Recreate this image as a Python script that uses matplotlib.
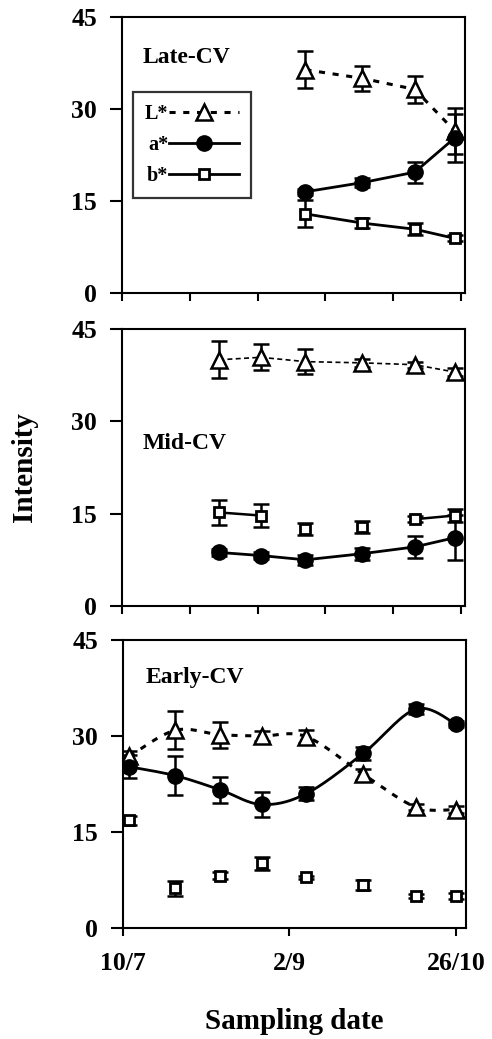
import numpy as np
import matplotlib
matplotlib.use("Agg")
import matplotlib.pyplot as plt
from matplotlib.lines import Line2D

plt.rcParams['font.family'] = ['Liberation Serif', 'DejaVu Serif']
plt.rcParams['font.weight'] = 'bold'

# Sampling dates as days after 10/7
dates = [2, 17, 31.5, 45, 59.5, 78, 95, 108]

# Late-CV (last 4 dates)
late_x = dates[4:]
late_L = [36.4, 35.0, 33.2, 26.4]
late_L_err = [3.0, 2.0, 2.2, 3.8]
late_a = [16.5, 18.0, 19.7, 25.3]
late_a_err = [0.5, 0.7, 1.7, 3.9]
late_b = [12.9, 11.4, 10.4, 8.9]
late_b_err = [2.2, 0.8, 1.0, 0.5]

# Mid-CV (last 6 dates)
mid_x = dates[2:]
mid_L = [40.0, 40.4, 39.7, 39.5, 39.2, 38.0]
mid_L_err = [3.0, 2.1, 2.0, 0.7, 0.5, 0.7]
mid_a = [8.7, 8.2, 7.5, 8.5, 9.6, 11.1]
mid_a_err = [0.5, 0.5, 0.8, 1.0, 1.8, 3.7]
mid_b = [15.2, 14.7, 12.5, 12.8, 14.1, 14.7]
mid_b_err = [2.1, 1.8, 1.0, 1.0, 0.5, 1.0]

# Early-CV (all dates)
early_x = dates
early_L = [26.8, 30.9, 30.2, 30.0, 29.9, 24.0, 18.9, 18.5]
early_L_err = [0.8, 3.0, 2.0, 0.8, 1.0, 0.8, 0.5, 0.5]
early_a = [25.2, 23.8, 21.6, 19.3, 21.0, 27.3, 34.2, 31.9]
early_a_err = [1.8, 3.0, 2.0, 2.0, 1.0, 1.0, 0.8, 0.5]
early_b = [16.8, 6.2, 8.2, 10.1, 7.9, 6.7, 5.0, 5.0]
early_b_err = [0.7, 1.2, 0.5, 1.0, 0.3, 0.8, 0.3, 0.5]

yticks = [0, 15, 30, 45]
bottom_xticks = [0, 54, 108]
bottom_xticklabels = ['10/7', '2/9', '26/10']
top_xticks = [0, 22, 44, 66, 88, 110]


def smooth(x, y, n=40):
    pts = np.column_stack([x, y]).astype(float)
    p = np.vstack([pts[0], pts, pts[-1]])
    out = []
    t = np.linspace(0, 1, n)[:, None]
    for i in range(1, len(p) - 2):
        p0, p1, p2, p3 = p[i - 1], p[i], p[i + 1], p[i + 2]
        seg = 0.5 * ((2 * p1) + (-p0 + p2) * t + (2 * p0 - 5 * p1 + 4 * p2 - p3) * t ** 2
                     + (-p0 + 3 * p1 - 3 * p2 + p3) * t ** 3)
        out.append(seg)
    s = np.vstack(out)
    return s[:, 0], s[:, 1]


W, H = 492, 1039
fig = plt.figure(figsize=(W / 100, H / 100), dpi=100)


def add_ax(left, right, top, bottom):
    return fig.add_axes([left / W, 1 - bottom / H, (right - left) / W, (bottom - top) / H])


ax1 = add_ax(122, 465, 17, 293)
ax2 = add_ax(122, 465, 329, 606)
ax3 = add_ax(123, 466, 640, 928)

ebkw = dict(ecolor='black', elinewidth=1.8, capsize=6, capthick=1.8, linestyle='none', zorder=2)
Lkw = dict(marker='^', markersize=11, markerfacecolor='white', markeredgecolor='black', markeredgewidth=1.8)
akw = dict(marker='o', markersize=11, markerfacecolor='black', markeredgecolor='black')
bkw = dict(marker='s', markersize=6.5, markerfacecolor='white', markeredgecolor='black', markeredgewidth=2)

for ax in (ax1, ax2, ax3):
    ax.set_xlim(0, 111.3)
    ax.set_ylim(0, 45)
    ax.set_yticks(yticks)
    for s in ax.spines.values():
        s.set_linewidth(1.5)
    ax.tick_params(axis='y', direction='out', length=9, width=1.5, labelsize=18.5, pad=9)
    ax.tick_params(axis='x', direction='out', length=6, width=1.5, labelsize=18.5, pad=11)
    for lbl in ax.get_yticklabels():
        lbl.set_fontweight('bold')

# Late-CV
ax = ax1
ax.errorbar(late_x, late_L, yerr=late_L_err, **ebkw)
ax.errorbar(late_x, late_a, yerr=late_a_err, **ebkw)
ax.errorbar(late_x, late_b, yerr=late_b_err, **ebkw)
ax.plot(late_x, late_L, color='black', linestyle=(0, (2, 2.5)), linewidth=2.2, zorder=3, **Lkw)
ax.plot(late_x, late_a, color='black', linestyle='-', linewidth=2, zorder=3, **akw)
ax.plot(late_x, late_b, color='black', linestyle='-', linewidth=2, zorder=3, **bkw)
ax.set_xticks(top_xticks)
ax.set_xticklabels([])
ax.text(0.06, 0.855, 'Late-CV', transform=ax.transAxes, fontsize=17, fontweight='bold', va='center')
handles = [Line2D([], [], color='black', linestyle=(0, (2, 2.5)), linewidth=2.2, **Lkw),
           Line2D([], [], color='black', linestyle='-', linewidth=2, **akw),
           Line2D([], [], color='black', linestyle='-', linewidth=2, **bkw)]
leg = ax.legend(handles, ['L*', 'a*', 'b*'], loc='upper left', bbox_to_anchor=(0.031, 0.73),
                borderaxespad=0, markerfirst=False, fancybox=False, frameon=True,
                prop={'family': 'Liberation Serif', 'weight': 'bold', 'size': 14.5},
                handlelength=3.45, handletextpad=0.05, labelspacing=0.55, borderpad=0.6)
leg.get_frame().set_edgecolor('black')
leg.get_frame().set_linewidth(1.6)

# Mid-CV
ax = ax2
ax.errorbar(mid_x, mid_L, yerr=mid_L_err, **ebkw)
ax.errorbar(mid_x, mid_a, yerr=mid_a_err, **ebkw)
ax.errorbar(mid_x, mid_b, yerr=mid_b_err, **ebkw)
ax.plot(mid_x, mid_L, color='black', linestyle=(0, (3, 2)), linewidth=1.2, zorder=3, **Lkw)
ax.plot(mid_x, mid_a, color='black', linestyle='-', linewidth=2, zorder=3, **akw)
ax.plot(mid_x[:2], mid_b[:2], color='black', linestyle='-', linewidth=1.8, zorder=3)
ax.plot(mid_x[4:], mid_b[4:], color='black', linestyle='-', linewidth=1.8, zorder=3)
ax.plot(mid_x, mid_b, color='black', linestyle='none', zorder=3, **bkw)
ax.set_xticks(top_xticks)
ax.set_xticklabels([])
ax.text(0.06, 0.585, 'Mid-CV', transform=ax.transAxes, fontsize=17, fontweight='bold', va='center')
ax.set_ylabel('Intensity', fontsize=21, fontweight='bold', labelpad=24)

# Early-CV
ax = ax3
ax.errorbar(early_x, early_L, yerr=early_L_err, **ebkw)
ax.errorbar(early_x, early_a, yerr=early_a_err, **ebkw)
ax.errorbar(early_x, early_b, yerr=early_b_err, **ebkw)
sx, sy = smooth(early_x, early_L)
ax.plot(sx, sy, color='black', linestyle=(0, (2, 2.5)), linewidth=2.2, zorder=3)
ax.plot(early_x, early_L, color='black', linestyle='none', zorder=3, **Lkw)
sx, sy = smooth(early_x, early_a)
ax.plot(sx, sy, color='black', linestyle='-', linewidth=2, zorder=3)
ax.plot(early_x, early_a, color='black', linestyle='none', zorder=3, **akw)
ax.plot(early_x, early_b, color='black', linestyle='none', zorder=3, **bkw)
ax.set_xticks(bottom_xticks)
ax.set_xticklabels(bottom_xticklabels, fontweight='bold')
ax.text(0.065, 0.87, 'Early-CV', transform=ax.transAxes, fontsize=17, fontweight='bold', va='center')
ax.set_xlabel('Sampling date', fontsize=21, fontweight='bold', labelpad=24)

fig.savefig('out.png', dpi=100, facecolor='white')
